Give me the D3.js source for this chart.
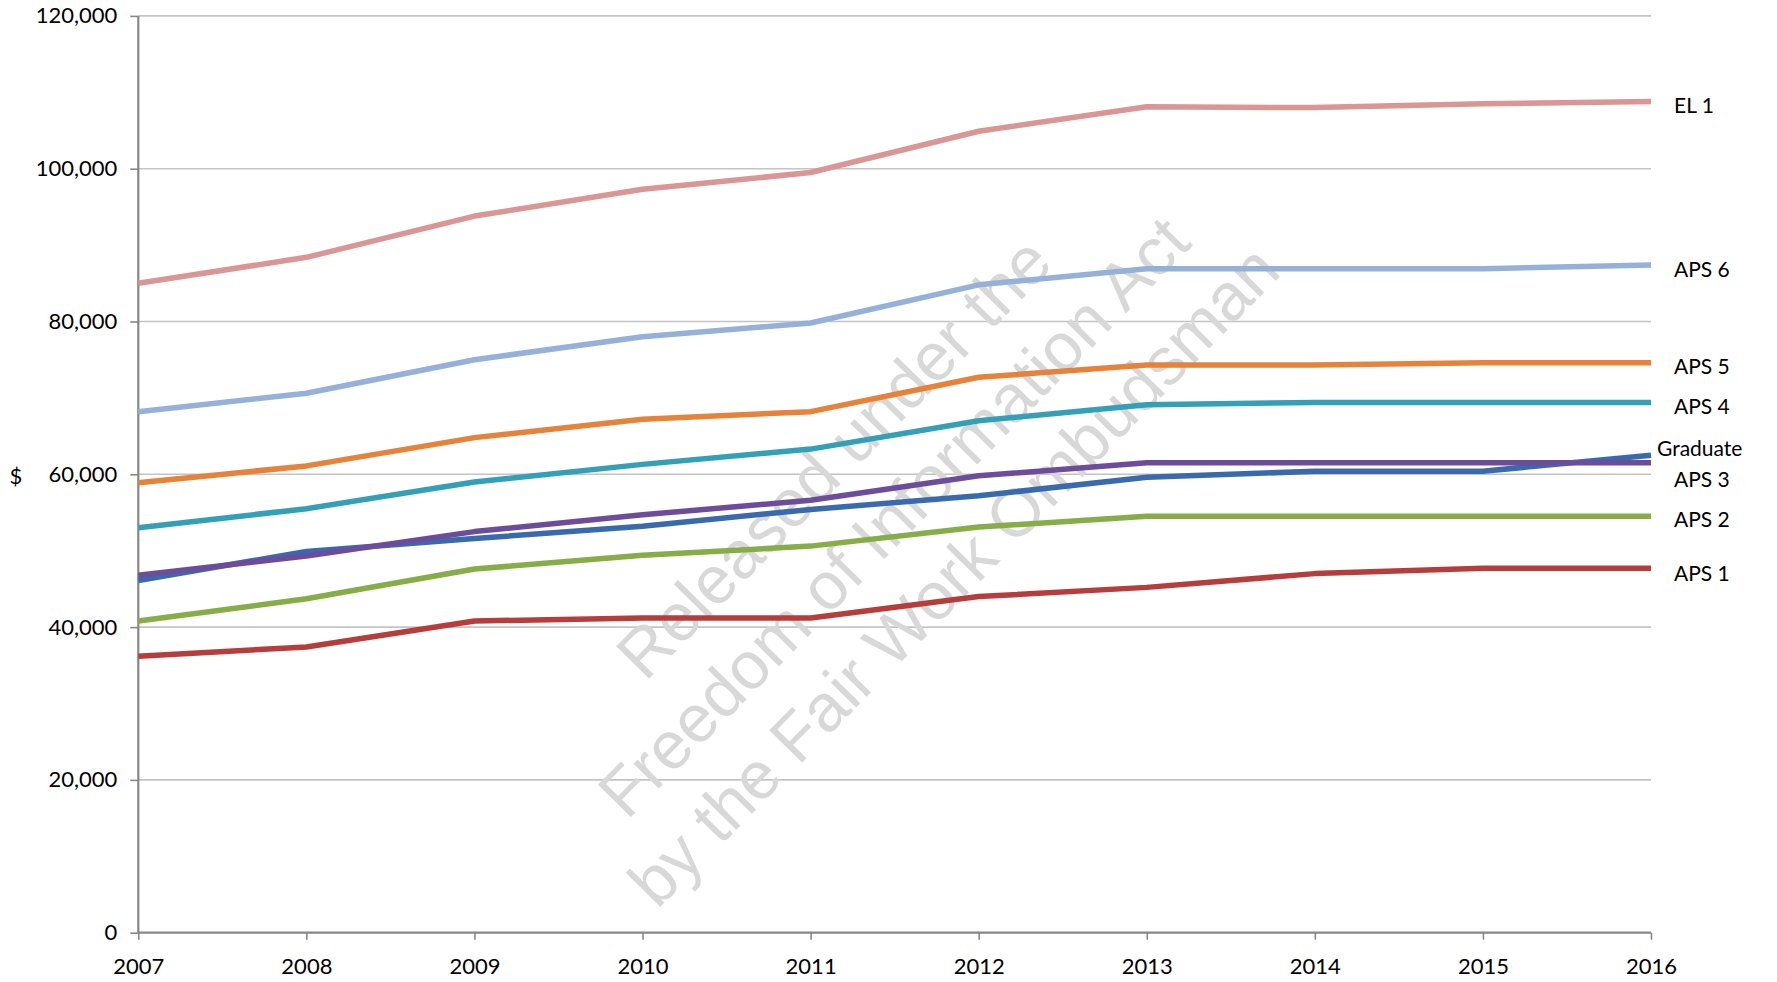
<!DOCTYPE html>
<html>
<head>
<meta charset="utf-8">
<script src="https://cdn.jsdelivr.net/npm/d3@7"></script>
<style>
  html, body { margin: 0; padding: 0; background: #fff; }
  svg { display: block; }
  text { font-family: Lato, "Open Sans", sans-serif; }
</style>
</head>
<body>
<svg id="chart" width="1777" height="982"></svg>
<script>
// ---- data ----
const years = [2007, 2008, 2009, 2010, 2011, 2012, 2013, 2014, 2015, 2016];
const yTicks = [0, 20000, 40000, 60000, 80000, 100000, 120000];
const seriesNames = ["EL 1", "APS 6", "APS 5", "APS 4", "Graduate", "APS 3", "APS 2", "APS 1"];
const el1      = [85000, 88400, 93800, 97300, 99500, 104900, 108100, 108000, 108500, 108800];
const aps6     = [68200, 70600, 75000, 78000, 79800, 84800, 86900, 86900, 86900, 87400];
const aps5     = [58900, 61100, 64800, 67200, 68200, 72700, 74300, 74300, 74600, 74600];
const aps4     = [53000, 55500, 59000, 61300, 63300, 67000, 69100, 69400, 69400, 69400];
const graduate = [46100, 49900, 51600, 53200, 55400, 57200, 59600, 60400, 60400, 62500];
const aps3     = [46800, 49300, 52500, 54700, 56600, 59800, 61500, 61500, 61500, 61500];
const aps2     = [40800, 43700, 47600, 49400, 50600, 53100, 54500, 54500, 54500, 54500];
const aps1     = [36200, 37400, 40800, 41200, 41200, 44000, 45200, 47000, 47700, 47700];
const seriesValues = [el1, aps6, aps5, aps4, graduate, aps3, aps2, aps1];
const watermarkLines = ["Released under the", "Freedom of Information Act", "by the Fair Work Ombudsman"];

// ---- styles ----
const colors = {
  "EL 1": "#d99694", "APS 6": "#95b1d9", "APS 5": "#e7823a", "APS 4": "#33a0b8",
  "Graduate": "#3a6aae", "APS 3": "#6e4c9c", "APS 2": "#86ad47", "APS 1": "#b73c3c"
};
const labelNudge = { "EL 1": 6, "APS 6": 7, "APS 5": 6, "APS 4": 6, "Graduate": -5, "APS 3": 19, "APS 2": 5, "APS 1": 7 };

const svg = d3.select("#chart");
const x = d3.scaleLinear().domain([2007, 2016]).range([138.3, 1651]);
const y = d3.scaleLinear().domain([0, 120000]).range([932.7, 15.9]);

// gridlines
svg.append("g").selectAll("line")
  .data(yTicks.filter(d => d > 0))
  .join("line")
  .attr("x1", x(2007)).attr("x2", x(2016))
  .attr("y1", d => y(d)).attr("y2", d => y(d))
  .attr("stroke", "#c4c4c4").attr("stroke-width", 1.6);

// watermark
const wm = svg.append("g")
  .attr("transform", "translate(893,516) rotate(-45.5)");
wm.selectAll("text").data(watermarkLines).join("text")
  .attr("x", 0).attr("y", (d, i) => (i - 1) * 84 + 24)
  .attr("text-anchor", "middle")
  .style("font-family", "'Liberation Sans', Arial, sans-serif")
  .style("font-size", "67px")
  .attr("fill", "#d8d8d8")
  .text(d => d);

// axes
const yAxis = d3.axisLeft(y).tickValues(yTicks).tickFormat(d3.format(",")).tickSize(8).tickPadding(13);
const gy = svg.append("g").attr("transform", `translate(${x(2007)},0)`).call(yAxis);
const xAxis = d3.axisBottom(x).tickValues(years).tickFormat(d3.format("d")).tickSize(7).tickPadding(19);
const gx = svg.append("g").attr("transform", `translate(0,${y(0)})`).call(xAxis);
[gy, gx].forEach(g => {
  g.select(".domain").attr("stroke", "#878787").attr("stroke-width", 2.2);
  g.selectAll(".tick line").attr("stroke", "#878787").attr("stroke-width", 1.6);
  g.selectAll(".tick text").attr("fill", "#000").style("font-size", "22px").style("font-family", "Lato, sans-serif");
});
gy.select(".domain").attr("d", `M0,${y(120000)}V${y(0)}`);
gx.select(".domain").attr("d", `M${x(2007)},0H${x(2016)}`);

// $ label
svg.append("text").attr("x", 16).attr("y", 478).attr("text-anchor", "middle")
  .attr("dominant-baseline", "middle").style("font-size", "22px").attr("fill", "#000").text("$");

// series
const line = d3.line().x((d, i) => x(years[i])).y(d => y(d)).curve(d3.curveLinear);
const order = ["APS 1", "APS 2", "Graduate", "APS 3", "APS 4", "APS 5", "APS 6", "EL 1"];
svg.append("g").selectAll("path")
  .data(order.map(n => ({ name: n, values: seriesValues[seriesNames.indexOf(n)] })))
  .join("path")
  .attr("d", d => line(d.values))
  .attr("fill", "none")
  .attr("stroke", d => colors[d.name])
  .attr("stroke-width", 5.5)
  .attr("stroke-linejoin", "round");

// end labels
svg.append("g").selectAll("text")
  .data(seriesNames.map((n, i) => ({ name: n, v: seriesValues[i][seriesValues[i].length - 1] })))
  .join("text")
  .attr("x", d => d.name === "Graduate" ? 1657 : 1674)
  .attr("y", d => y(d.v) + labelNudge[d.name])
  .attr("dominant-baseline", "middle")
  .style("font-size", "21px")
  .attr("fill", "#000")
  .text(d => d.name);
</script>
</body>
</html>
